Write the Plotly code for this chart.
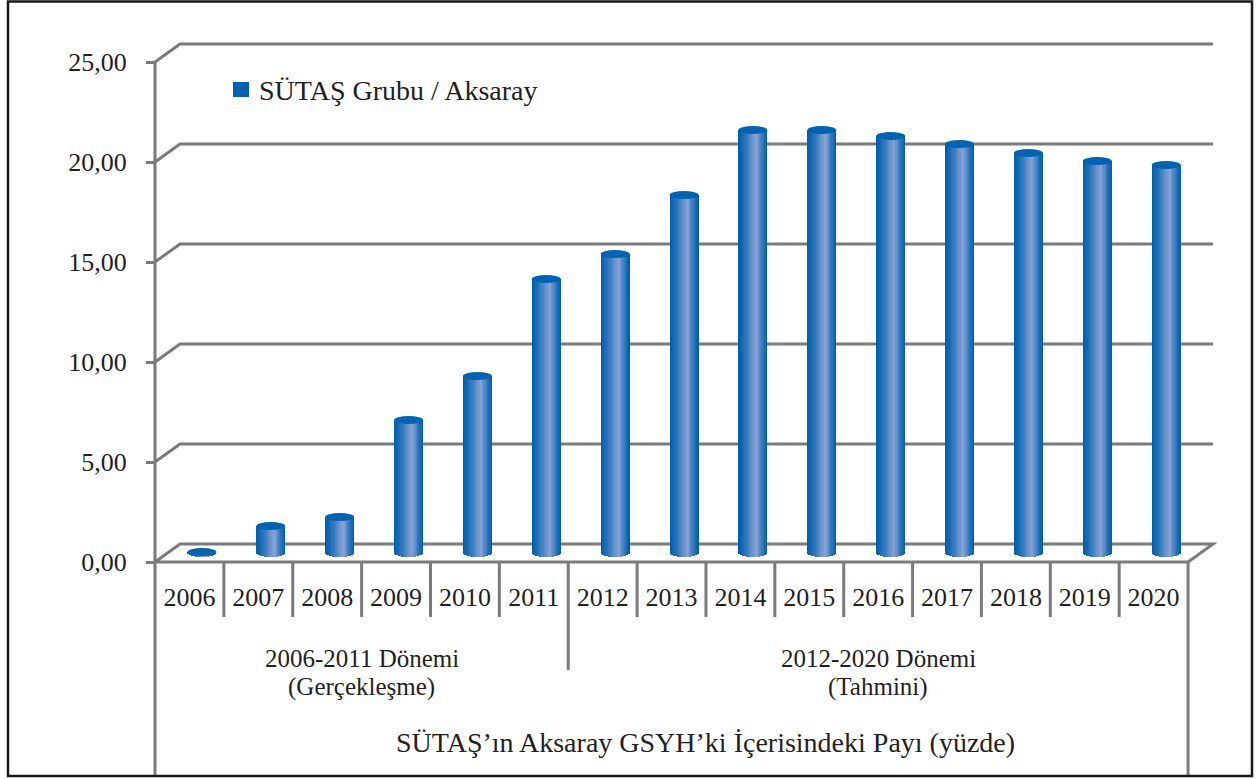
import numpy as np
import plotly.graph_objects as go

# ---------------- data ----------------
years = ["2006", "2007", "2008", "2009", "2010", "2011", "2012", "2013",
         "2014", "2015", "2016", "2017", "2018", "2019", "2020"]
values = [0.05, 1.35, 1.8, 6.65, 8.85, 13.7, 14.95, 17.9,
          21.15, 21.15, 20.85, 20.45, 20.0, 19.6, 19.4]
y_ticks = [0, 5, 10, 15, 20, 25]
y_tick_labels = ["0,00", "5,00", "10,00", "15,00", "20,00", "25,00"]
group_line1 = ["2006-2011 Dönemi", "2012-2020 Dönemi"]
group_line2 = ["(Gerçekleşme)", "(Tahmini)"]
group_first = [0, 6]
group_last = [5, 14]
series_name = "SÜTAŞ Grubu / Aksaray"
axis_title = "SÜTAŞ’ın Aksaray GSYH’ki İçerisindeki Payı (yüzde)"

# ---------------- geometry ----------------
W, H = 1256, 779
X0_PX, CAT_PX = 155.0, 68.87      # pixel of category edge -0.5, pixels per category
Y0_PX, UNIT_PX = 562.0, 20.0      # pixel of value 0 (front), pixels per unit
n = len(years)
xr = [-0.5 - X0_PX / CAT_PX, -0.5 + (W - X0_PX) / CAT_PX]
yr = [-(H - Y0_PX) / UNIT_PX, Y0_PX / UNIT_PX]
dx = 25.0 / CAT_PX               # 3D depth offset
dy = 18.0 / UNIT_PX
mdx, mdy = dx / 2, dy / 2        # bars stand in the middle plane
bw = 29.0 / CAT_PX               # cylinder width
eh = 4.0 / UNIT_PX               # ellipse half height

GRAY = "#7b7b7b"
TXT = "#231f20"
FONT = "Liberation Serif"
FS = 26

dark = np.array([0, 96, 174])
light = np.array([140, 164, 214])


def strip_color(t):
    peak = 0.62
    if t <= peak:
        f = t / peak
    else:
        f = (1 - t) / (1 - peak)
    f = max(0.0, f) ** 1.3
    c = dark + (light - dark) * f
    return "rgb(%d,%d,%d)" % tuple(int(round(v)) for v in c)


fig = go.Figure()

vals = np.array(values, dtype=float)
centers = np.arange(n) + mdx
N = 24
sw = bw / N
order = list(range(0, N // 2)) + list(range(N - 1, N // 2 - 1, -1))
for k in order:
    mid = -bw / 2 + (k + 0.5) * sw          # strip centre relative to cylinder axis
    u = mid / (bw / 2)
    base = mdy - eh * np.sqrt(max(0.0, 1 - u * u))
    if k < N // 2:
        left = -bw / 2 + k * sw
        xc = centers + left / 2
        width = -left
    else:
        right = -bw / 2 + (k + 1) * sw
        xc = centers + right / 2
        width = right
    fig.add_trace(go.Bar(
        x=xc, y=vals + mdy - base, base=[base] * n, width=[width] * n,
        marker=dict(color=strip_color((k + 0.5) / N), line=dict(width=0)),
        showlegend=False, hoverinfo="skip"))

shapes = []
# back wall gridlines (with diagonal from front axis)
for t in y_ticks[1:]:
    shapes.append(dict(type="path", xref="x", yref="y", layer="below",
                       path=f"M {-0.5},{t} L {-0.5 + dx},{t + dy} L {n - 0.5 + dx},{t + dy}",
                       line=dict(color=GRAY, width=3)))
# floor
shapes.append(dict(type="path", xref="x", yref="y", layer="below",
                   path=(f"M {-0.5},0 L {-0.5 + dx},{dy} L {n - 0.5 + dx},{dy} "
                         f"L {n - 0.5},0 Z"),
                   line=dict(color=GRAY, width=3)))
# left axis line running down through the table
bottom_y = (Y0_PX - 776) / UNIT_PX
shapes.append(dict(type="line", xref="x", yref="y", layer="below",
                   x0=-0.5, x1=-0.5, y0=y_ticks[-1], y1=bottom_y,
                   line=dict(color=GRAY, width=3)))
shapes.append(dict(type="line", xref="x", yref="y", layer="below",
                   x0=n - 0.5, x1=n - 0.5, y0=0, y1=bottom_y,
                   line=dict(color=GRAY, width=3)))
# year cell separators
year_row_bottom = (Y0_PX - 617) / UNIT_PX
for i in range(n - 1):
    shapes.append(dict(type="line", xref="x", yref="y", layer="below",
                       x0=i + 0.5, x1=i + 0.5, y0=0, y1=year_row_bottom,
                       line=dict(color=GRAY, width=3)))
# group divider
group_row_bottom = (Y0_PX - 670) / UNIT_PX
for g in group_last[:-1]:
    shapes.append(dict(type="line", xref="x", yref="y", layer="below",
                       x0=g + 0.5, x1=g + 0.5, y0=year_row_bottom, y1=group_row_bottom,
                       line=dict(color=GRAY, width=3)))
# cylinder tops
for c, v in zip(centers, vals):
    top = v + mdy
    shapes.append(dict(type="circle", xref="x", yref="y", layer="above",
                       x0=c - bw / 2, x1=c + bw / 2, y0=top - eh, y1=top + eh,
                       fillcolor="#0064b2", line=dict(width=0)))
# legend swatch
shapes.append(dict(type="rect", xref="paper", yref="paper",
                   x0=233 / W, x1=249 / W, y0=1 - 97 / H, y1=1 - 82 / H,
                   fillcolor="#0062b0", line=dict(width=0)))
# outer frame
shapes.append(dict(type="rect", xref="paper", yref="paper",
                   x0=8 / W, x1=1252 / W, y0=1 - 776 / H, y1=1 - 1.5 / H,
                   line=dict(color="#1a1a1a", width=2.5)))

annotations = []
for a, b, l1, l2 in zip(group_first, group_last, group_line1, group_line2):
    xm = (a + b) / 2
    annotations.append(dict(x=xm, y=(Y0_PX - 658) / UNIT_PX, xref="x", yref="y",
                            text=l1, showarrow=False, font=dict(size=25, color=TXT, family=FONT)))
    annotations.append(dict(x=xm, y=(Y0_PX - 687) / UNIT_PX, xref="x", yref="y",
                            text=l2, showarrow=False, font=dict(size=25, color=TXT, family=FONT)))
title_x = (705 - X0_PX) / CAT_PX - 0.5
annotations.append(dict(x=title_x, y=(Y0_PX - 742) / UNIT_PX, xref="x", yref="y",
                        text=axis_title, showarrow=False,
                        font=dict(size=28, color=TXT, family=FONT)))
annotations.append(dict(x=257 / W, y=1 - 90 / H, xref="paper", yref="paper",
                        xanchor="left", yanchor="middle", text=series_name, showarrow=False,
                        font=dict(size=28, color=TXT, family=FONT)))

fig.update_layout(
    width=W, height=H, margin=dict(l=0, r=0, t=0, b=0),
    paper_bgcolor="white", plot_bgcolor="white",
    barmode="overlay", bargap=0, showlegend=False,
    shapes=shapes, annotations=annotations,
    xaxis=dict(range=xr, tickvals=list(range(n)), ticktext=years,
               showgrid=False, zeroline=False, showline=False, ticks="",
               anchor="free", position=(H - Y0_PX) / H, automargin=False,
               ticklabelstandoff=17,
               tickfont=dict(size=FS, color=TXT, family=FONT)),
    yaxis=dict(range=yr, tickvals=y_ticks, ticktext=y_tick_labels,
               showgrid=False, zeroline=False, showline=False,
               ticks="outside", ticklen=9, tickwidth=3, tickcolor=GRAY,
               anchor="free", position=X0_PX / W, automargin=False,
               ticklabelstandoff=14,
               tickfont=dict(size=FS, color=TXT, family=FONT)),
)

fig.write_html("out.html", config={"displayModeBar": False},
               post_script="document.body.style.margin='0px';")
